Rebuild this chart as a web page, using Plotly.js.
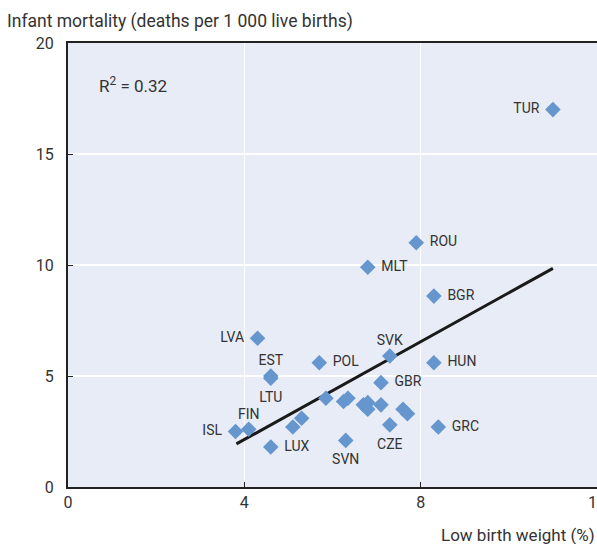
<!DOCTYPE html>
<html>
<head>
<meta charset="utf-8">
<script src="https://cdn.plot.ly/plotly-3.0.1.min.js"></script>
<style>html,body{margin:0;padding:0;background:#fff;}#chart{width:597px;height:544px;}</style>
</head>
<body>
<div id="chart"></div>
<script>
// Data
const countries = ["TUR","ROU","MLT","BGR","LVA","SVK","POL","HUN","EST","LTU","GBR","ISL","FIN","LUX","SVN","CZE","GRC",
                   "","","","","","","","","","",""];
const lowBirthWeight = [11.0,7.9,6.8,8.3,4.3,7.3,5.7,8.3,4.6,4.6,7.1,3.8,4.1,4.6,6.3,7.3,8.4,
                        5.1,5.3,5.85,6.25,6.35,6.7,6.8,6.8,7.1,7.6,7.7];
const infantMortality = [17.0,11.0,9.9,8.6,6.7,5.9,5.6,5.6,5.0,4.9,4.7,2.5,2.6,1.8,2.1,2.8,2.7,
                         2.7,3.1,4.0,3.85,4.0,3.7,3.8,3.5,3.7,3.5,3.3];
const labelPositions = ["middle left","middle right","middle right","middle right","middle left","top center","middle right","middle right","top center","bottom center","middle right","middle left","top center","middle right","bottom center","bottom center","middle right",
                        "top center","top center","top center","top center","top center","top center","top center","top center","top center","top center","top center"];
const trendX = [3.82, 11.0];
const trendY = [1.94, 9.85];
const xTicks = [0, 4, 8, 12];
const yTicks = [0, 5, 10, 15, 20];
const r2Text = "R<sup>2</sup> = 0.32";
const yTitle = "Infant mortality (deaths per 1 000 live births)";
const xTitle = "Low birth weight (%)";

const FONT = "Roboto, 'Liberation Sans Narrow', sans-serif";

// invisible spacer markers: smaller for labels placed above the point
const spacerSizes = labelPositions.map(p => p.indexOf("top") === 0 ? 10 : 20);

const traces = [
  {
    x: trendX, y: trendY, mode: "lines", type: "scatter",
    line: {color: "#1a1a1a", width: 3}, hoverinfo: "skip", showlegend: false
  },
  {
    x: lowBirthWeight, y: infantMortality, mode: "markers", type: "scatter",
    marker: {symbol: "diamond", size: 12, color: "#6596CE", line: {width: 0}},
    cliponaxis: false, showlegend: false
  },
  {
    x: lowBirthWeight, y: infantMortality, text: countries, mode: "markers+text", type: "scatter",
    textposition: labelPositions,
    textfont: {family: FONT, size: 14, color: "#333"},
    marker: {symbol: "circle", size: spacerSizes, color: "rgba(0,0,0,0)", line: {width: 0, color: "rgba(0,0,0,0)"}},
    cliponaxis: false, showlegend: false
  }
];

const layout = {
  width: 597, height: 544,
  margin: {l: 68, r: 0, t: 43, b: 57},
  paper_bgcolor: "#ffffff",
  plot_bgcolor: "#E8ECF6",
  font: {family: FONT, size: 16, color: "#333"},
  showlegend: false,
  xaxis: {
    range: [0, 12], tickvals: xTicks, ticktext: xTicks.map(String),
    showgrid: true, gridcolor: "#ffffff", gridwidth: 1.5,
    zeroline: false, showline: true, linecolor: "#222", linewidth: 2, mirror: true,
    ticks: "inside", ticklen: 5, tickcolor: "#222", tickwidth: 1,
    ticklabeloverflow: "allow",
    tickfont: {family: FONT, size: 16, color: "#333"}, fixedrange: true
  },
  yaxis: {
    range: [0, 20], tickvals: yTicks, ticktext: yTicks.map(String),
    showgrid: true, gridcolor: "#ffffff", gridwidth: 1.5,
    zeroline: false, showline: true, linecolor: "#222", linewidth: 2, mirror: false,
    ticks: "inside", ticklen: 5, tickcolor: "#222", tickwidth: 1,
    ticklabelstandoff: 9,
    tickfont: {family: FONT, size: 16, color: "#333"}, fixedrange: true
  },
  annotations: [
    {text: r2Text, xref: "paper", yref: "paper", x: 0.055, y: 0.905, xanchor: "left", yanchor: "middle",
     showarrow: false, font: {family: FONT, size: 17, color: "#333"}},
    {text: yTitle, xref: "paper", yref: "paper", x: -0.12, y: 1.0, yshift: 22, xanchor: "left", yanchor: "middle",
     showarrow: false, font: {family: FONT, size: 17.5, color: "#333"}},
    {text: xTitle, xref: "paper", yref: "paper", x: 1.0, y: 0, yshift: -48, xanchor: "right", yanchor: "middle",
     showarrow: false, font: {family: FONT, size: 17, color: "#333"}}
  ]
};

Plotly.newPlot("chart", traces, layout, {displayModeBar: false, staticPlot: true});
</script>
</body>
</html>
